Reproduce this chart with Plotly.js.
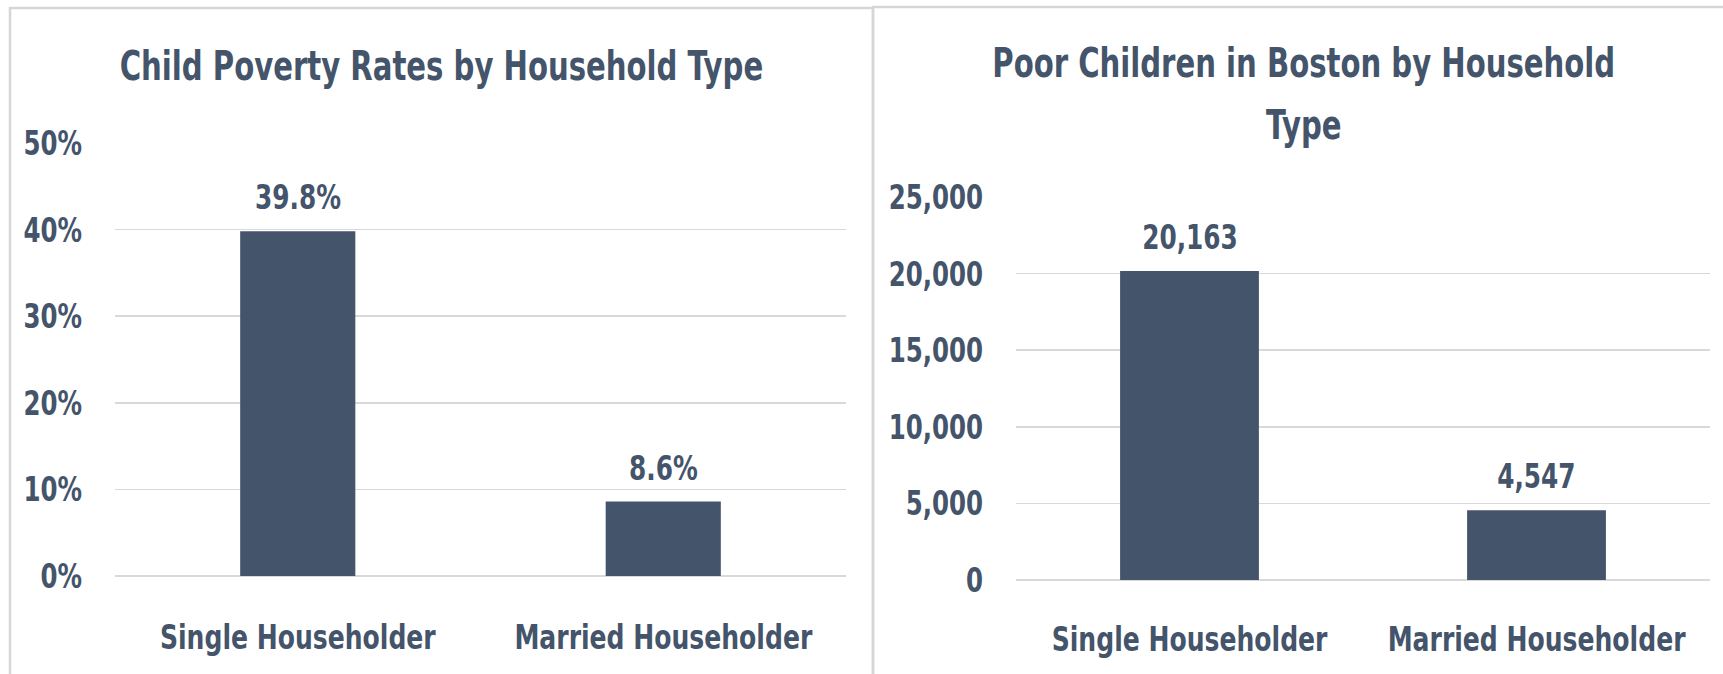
<!DOCTYPE html>
<html><head><meta charset="utf-8">
<script src="https://cdn.plot.ly/plotly-3.0.1.min.js"></script>
<style>html,body{margin:0;padding:0;background:#fff;}#chart{width:1723px;height:674px;}</style>
</head><body><div id="chart"></div>
<script>
const categories = ["Single Householder", "Married Householder"];
const povertyRates = [0.398, 0.086];
const poorChildren = [20163, 4547];
const rateTicks = [0, 0.1, 0.2, 0.3, 0.4, 0.5];
const countTicks = [0, 5000, 10000, 15000, 20000, 25000];
const leftTitle = "Child Poverty Rates by Household Type";
const rightTitleLines = ["Poor Children in Boston by Household", "Type"];

const FONT = '"Liberation Sans Narrow", "DejaVu Sans Condensed", sans-serif';
const INK = '#44546a';
const GRID = '#d9d9d9';
const W = 1723, H = 674;
const px = v => v / W;
const py = v => 1 - v / H;

const traces = [
  {type:'bar', x:categories, y:povertyRates, xaxis:'x', yaxis:'y', width:0.315,
   marker:{color:INK, line:{width:0}}, hoverinfo:'skip'},
  {type:'bar', x:categories, y:poorChildren, xaxis:'x2', yaxis:'y2', width:0.4,
   marker:{color:INK, line:{width:0}}, hoverinfo:'skip'}
];

const valFont = {family:FONT, size:34, color:INK, weight:'bold'};
const ann = [];
categories.forEach((c,i)=>{
  ann.push({xref:'x', yref:'y', x:c, y:povertyRates[i], text:(povertyRates[i]*100).toFixed(1)+'%',
    showarrow:false, yanchor:'bottom', yshift:12, font:valFont});
  ann.push({xref:'x2', yref:'y2', x:c, y:poorChildren[i], text:poorChildren[i].toLocaleString('en-US'),
    showarrow:false, yanchor:'bottom', yshift:12, font:valFont});
});
const titleFont = {family:FONT, size:40, color:INK, weight:'bold'};
ann.push({xref:'paper', yref:'paper', x:px(441), y:py(66), text:leftTitle, showarrow:false,
  xanchor:'center', yanchor:'middle', font:titleFont});
rightTitleLines.forEach((t,i)=>{
  ann.push({xref:'paper', yref:'paper', x:px(1303), y:py(63 + i*62), text:t, showarrow:false,
    xanchor:'center', yanchor:'middle', font:titleFont});
});

const axisFont = {family:FONT, size:34, color:INK, weight:'bold'};
const layout = {
  width:W, height:H, margin:{l:0,r:0,t:0,b:0},
  paper_bgcolor:'#fff', plot_bgcolor:'#fff', showlegend:false,
  xaxis:{domain:[px(115), px(846)], type:'category', showgrid:false, zeroline:false, showline:false,
    ticks:'', tickangle:0, tickfont:axisFont, ticklabelstandoff:38},
  yaxis:{domain:[py(576), py(143)], range:[0,0.5], tickvals:rateTicks, tickformat:'.0%',
    gridcolor:GRID, gridwidth:1.6, zeroline:true, zerolinecolor:GRID, zerolinewidth:1.6, showline:false,
    ticks:'', tickfont:axisFont, ticklabelstandoff:32},
  xaxis2:{domain:[px(1016), px(1710)], type:'category', anchor:'y2', showgrid:false, zeroline:false, showline:false,
    ticks:'', tickangle:0, tickfont:axisFont, ticklabelstandoff:36},
  yaxis2:{domain:[py(580), py(197)], anchor:'x2', range:[0,25000], tickvals:countTicks, tickformat:',d',
    gridcolor:GRID, gridwidth:1.6, zeroline:true, zerolinecolor:GRID, zerolinewidth:1.6, showline:false,
    ticks:'', tickfont:axisFont, ticklabelstandoff:32},
  annotations:ann,
  shapes:[
    {type:'rect', xref:'paper', yref:'paper', x0:px(10), x1:px(873), y0:-0.05, y1:py(8),
      line:{color:'#d6d6d6', width:2.5}, layer:'below'},
    {type:'rect', xref:'paper', yref:'paper', x0:px(873), x1:1.05, y0:-0.05, y1:py(7),
      line:{color:'#d6d6d6', width:2.5}, layer:'below'}
  ]
};

// Narrow the glyphs horizontally (reference uses a condensed face)
function squeeze(sel, s, mode){
  document.querySelectorAll(sel).forEach(el=>{
    const bb = el.getBBox();
    const ax = mode === 'end' ? bb.x + bb.width : bb.x + bb.width/2;
    const prev = el.getAttribute('transform') || '';
    el.setAttribute('transform', prev + ' translate(' + ax + ',0) scale(' + s + ',1) translate(' + (-ax) + ',0)');
  });
}
Plotly.newPlot('chart', traces, layout, {staticPlot:true, displayModeBar:false}).then(()=>{
  squeeze('#chart .xtick text, #chart .x2tick text', 0.82, 'mid');
  squeeze('#chart .ytick text, #chart .y2tick text', 0.8, 'end');
  squeeze('#chart .annotation-text', 0.81, 'mid');
});
</script></body></html>
